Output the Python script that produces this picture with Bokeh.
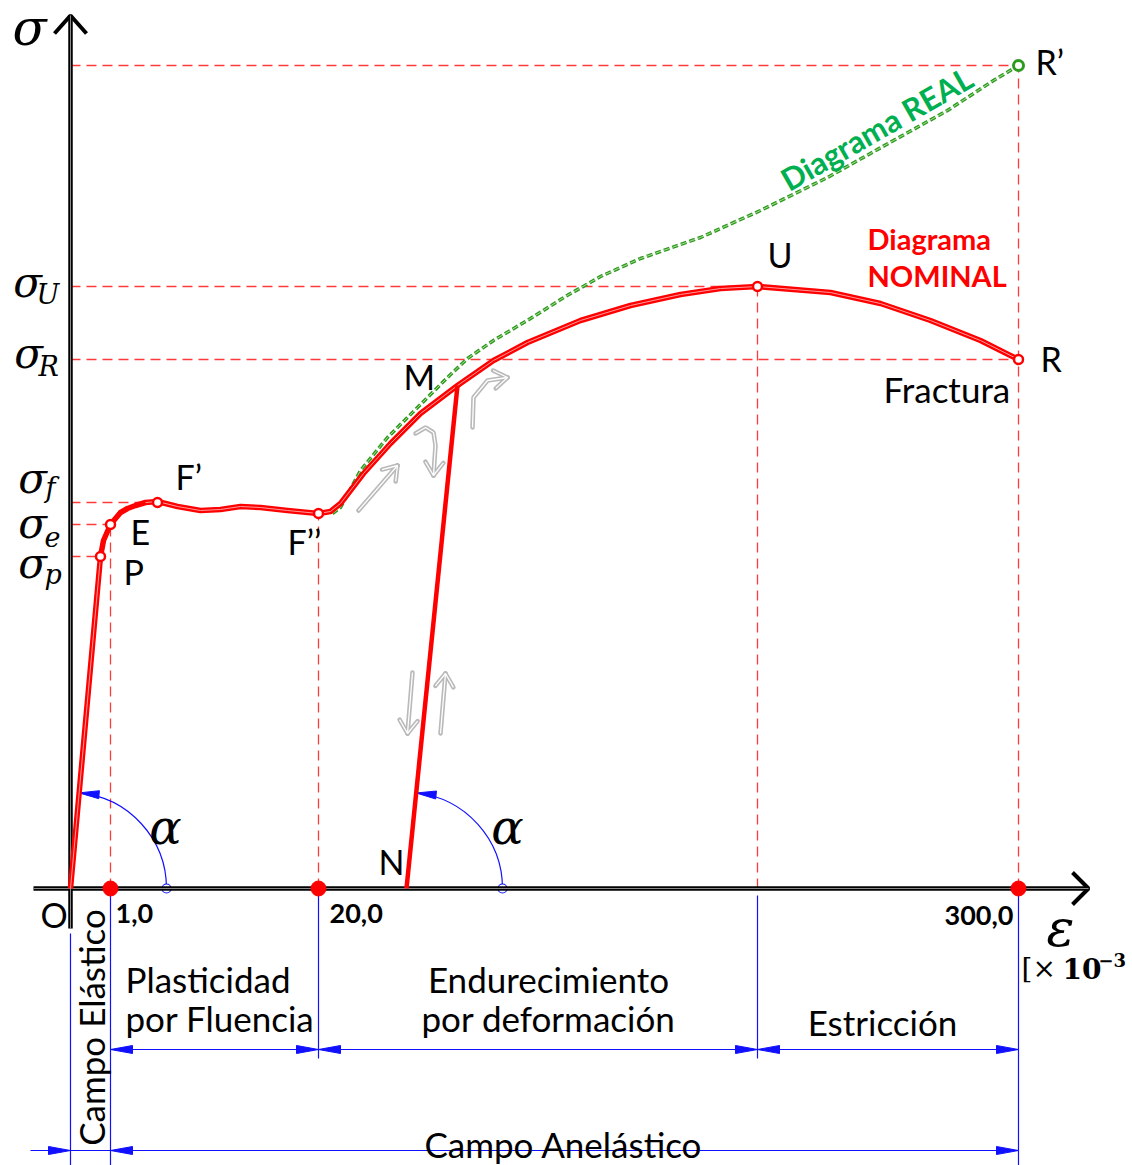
import numpy as np
from bokeh.plotting import figure
from bokeh.models import Range1d
from bokeh.embed import file_html
from bokeh.resources import INLINE
from bokeh.core.properties import value

# ---------------- data (schematic diagram units: x = strain position, y = stress) ----------------
strain_ticks = [40, 248, 948]
strain_tick_labels = ["1,0", "20,0", "300,0"]
strain_P, strain_E, strain_F1, strain_F2 = 30, 40, 87, 248
strain_M, strain_U, strain_R = 387, 687, 948
strain_N = 336

stress_p, stress_e, stress_f = 332, 364, 386
stress_F2, stress_M = 375, 503
stress_R, stress_U, stress_Rreal = 529, 602, 823

nominal_x = [0, 30, 33, 40, 50, 57, 65, 75, 87, 107, 130, 150, 170, 190, 217, 248,
             260, 270, 293, 320, 350, 387, 423, 457, 510, 560, 610, 650, 687,
             760, 810, 860, 910, 948]
nominal_y = [0, 332, 348, 364, 376, 380, 383, 386, 387, 382, 378, 379, 382, 381, 378, 375,
             377, 385, 415, 445, 475, 503, 528, 546, 568, 583, 594, 600, 602,
             596, 585, 568, 548, 529]

real_x = [262, 270, 290, 317, 347, 377, 397, 423, 460, 495, 530, 570, 630, 690, 757, 823, 877, 923, 948]
real_y = [375, 381, 418, 451, 481, 511, 530, 548, 570, 592, 612, 630, 651, 678, 711, 748, 778, 808, 823]

point_names = ["P", "E", "F’", "F’’", "U", "R"]
point_x = [strain_P, strain_E, strain_F1, strain_F2, strain_U, strain_R]
point_y = [stress_p, stress_e, stress_f, stress_F2, stress_U, stress_R]

# ---------------- figure ----------------
p = figure(width=1132, height=1165, x_range=Range1d(-70, 1062), y_range=Range1d(-277, 888),
           output_backend="svg", toolbar_location=None, min_border=0,
           x_axis_location=None, y_axis_location=None)
p.grid.visible = False
p.outline_line_color = None

RED = "#ff0000"
GUIDE = "#ff3a3a"
BLUE = "#1010ff"
GREEN = "#2e9a1e"
GRAY = "#b9b9b9"

# guide dashed lines
hx0 = [0, 0, 0, 0, 0, 0]
hx1 = [strain_R, strain_U, strain_R, strain_F1, strain_E, strain_P]
hy = [stress_Rreal, stress_U, stress_R, stress_f, stress_e, stress_p]
p.segment(x0=hx0, y0=hy, x1=hx1, y1=hy, line_color=GUIDE, line_width=1.3, line_dash="10 6")
vx = [strain_E, strain_F2, strain_U, strain_R]
vy1 = [stress_e, stress_F2, stress_U, stress_Rreal]
p.segment(x0=vx, y0=[0] * 4, x1=vx, y1=vy1, line_color=GUIDE, line_width=1.3, line_dash="10 6")

# blue dimension lines
bx = [0, strain_E, strain_F2, strain_U, strain_R]
by0 = [-45, -7, -7, -7, -7]
by1 = [-280, -280, -170, -170, -280]
p.segment(x0=bx, y0=by0, x1=bx, y1=by1, line_color=BLUE, line_width=1.2)
dim1_y, dim2_y = -161, -262
p.segment(x0=[strain_E, -40], y0=[dim1_y, dim2_y], x1=[strain_R, strain_R], y1=[dim1_y, dim2_y],
          line_color=BLUE, line_width=1.2)

def tri(tx, ty, d, L=22, w=4):
    return [tx, tx - d * L, tx - d * L], [ty, ty + w, ty - w]

heads = [(strain_E, dim1_y, -1), (strain_F2, dim1_y, 1), (strain_F2, dim1_y, -1),
         (strain_U, dim1_y, 1), (strain_U, dim1_y, -1), (strain_R, dim1_y, 1),
         (0, dim2_y, 1), (strain_E, dim2_y, -1), (strain_R, dim2_y, 1)]
hxs, hys = [], []
for tx, ty, d in heads:
    a, b = tri(tx, ty, d)
    hxs.append(a); hys.append(b)
p.patches(hxs, hys, fill_color=BLUE, line_color=BLUE, line_width=1)

# alpha arcs
ang1 = np.arctan2(stress_p, strain_P)
ang2 = np.arctan2(stress_M, strain_M - strain_N)
r = 96
p.arc(x=[0, strain_N], y=[0, 0], radius=r, start_angle=0, end_angle=[ang1, ang2],
      line_color=BLUE, line_width=1.2)
axs, ays = [], []
for cx, a in [(0, ang1), (strain_N, ang2)]:
    tx, ty = cx + r * np.cos(a), r * np.sin(a)
    dx, dy = -np.sin(a), np.cos(a)
    nx, ny = -dy, dx
    L, w = 20, 4
    axs.append([tx, tx - dx * L + nx * w, tx - dx * L - nx * w])
    ays.append([ty, ty - dy * L + ny * w, ty - dy * L - ny * w])
p.patches(axs, ays, fill_color=BLUE, line_color=BLUE)
p.scatter([r, strain_N + r], [0, 0], size=9, fill_color="white", line_color=BLUE, line_width=1.2)

# axes
p.line([0, 0], [-40, 873], line_color="black", line_width=4.5)
p.line([-37, 1018], [0, 0], line_color="black", line_width=4.5)
p.line([-16, 0, 16], [855, 873, 855], line_color="black", line_width=4)
p.line([1002, 1018, 1002], [16, 0, -16], line_color="black", line_width=4)
p.line([0, 0], [-40, 873], line_color="#8a8a8a", line_width=1)
p.line([-37, 1018], [0, 0], line_color="#8a8a8a", line_width=1)

# gray direction arrows
garrows = [
    ([288, 327], [378, 423]),
    ([345, 355, 363, 365, 363], [455, 461, 456, 443, 413]),
    ([402, 403, 417, 437], [461, 491, 508, 511]),
    ([342, 337], [216, 155]),
    ([370, 375], [155, 215]),
]
gx, gy = [], []
for xs, ys in garrows:
    gx.append(xs); gy.append(ys)
    tx, ty = xs[-1], ys[-1]
    d = np.array([tx - xs[-2], ty - ys[-2]], float)
    d /= np.linalg.norm(d)
    for s in (1, -1):
        c, sn = np.cos(s * 0.6), np.sin(s * 0.6)
        bx_ = -(d[0] * c - d[1] * sn) * 16
        by_ = -(d[0] * sn + d[1] * c) * 16
        gx.append([tx, tx + bx_]); gy.append([ty, ty + by_])
p.multi_line(gx, gy, line_color=GRAY, line_width=4.5, line_cap="round")
p.multi_line(gx, gy, line_color="white", line_width=1.3)

# real (green) diagram
p.line(real_x, real_y, line_color=GREEN, line_width=3.5, line_dash="6 3")
p.line(real_x, real_y, line_color="#a8dc98", line_width=1, line_dash="6 3")

# nominal (red) diagram
p.line(nominal_x, nominal_y, line_color=RED, line_width=5.5, line_join="round")
p.line(nominal_x[7:], nominal_y[7:], line_color="#ff9a9a", line_width=1)
p.line([strain_N, strain_M], [0, stress_M], line_color=RED, line_width=4.5)
p.line([0, strain_P], [0, stress_p], line_color="#ff9a9a", line_width=1)

p.scatter(point_x, point_y, size=9, fill_color="white", line_color=RED, line_width=2.5)
p.scatter([strain_R], [stress_Rreal], size=10, fill_color="white", line_color=GREEN, line_width=3)
p.scatter(strain_ticks, [0] * 3, size=15, fill_color=RED, line_color=RED)

# ---------------- texts ----------------
SANS = value("Lato")
SERIF = value("DejaVu Serif")

def txt(xs, ys, ts, size, font=SANS, style="normal", color="black", align="left",
        baseline="alphabetic", angle=0, k=0.4):
    if baseline == "alphabetic":
        ys = [y + k * size for y in ys]
    p.text(x=xs, y=ys, text=ts, text_font=font, text_font_size=f"{size}px",
           text_font_style=style, text_color=color, text_align=align,
           text_baseline=baseline, angle=angle)

txt([105, 60, 53, 217, 333, 697, 970, 965, 308, -30],
    [398, 343, 303, 333, 498, 620, 516, 813, 13, -40],
    ["F’", "E", "P", "F’’", "M", "U", "R", "R’", "N", "O"], 34)
txt([813], [486], ["Fractura"], 35)
txt([797, 797], [638, 601], ["Diagrama", "NOMINAL"], 29, style="bold", color=RED)
txt([806], [760], ["Diagrama REAL"], 31, style="bold", color="#00b050",
    align="center", baseline="middle", angle=0.52)

txt([45, 259], [-36, -36], strain_tick_labels[:2], 27, style="bold")
txt([943], [-38], strain_tick_labels[2:], 27, style="bold", align="right")

txt([55, 55], [-104, -143], ["Plasticidad", "por Fluencia"], 35)
txt([478, 478], [-104, -143], ["Endurecimiento", "por deformación"], 35, align="center")
txt([812], [-147], ["Estricción"], 35, align="center")
txt([493], [-269], ["Campo Anelástico"], 35, align="center")
txt([20], [-139], ["Campo Elástico"], 35, align="center", baseline="middle", angle=np.pi / 2)

# greek symbols
txt([-41], [846], ["σ"], 50, font=SERIF, style="italic", align="center", k=0.3)
txt([-43, -42, -38, -38, -38], [591, 520, 395, 350, 310], ["σ"] * 5, 42,
    font=SERIF, style="italic", align="center", k=0.36)
txt([-34, -32, -25, -26, -26], [583, 511, 390, 341, 303], ["U", "R", "f", "e", "p"], 27,
    font=SERIF, style="italic")
txt([95, 437], [46, 46], ["α", "α"], 48, font=SERIF, style="italic", align="center", k=0.33)
txt([990], [-57], ["ε"], 52, font=SERIF, style="italic", align="center", k=0.33)
txt([951], [-91], ["[×"], 28, font=SERIF)
txt([992], [-91], ["10"], 28, font=SERIF, style="bold")
txt([1028], [-79], ["−3"], 18, font=SERIF, style="bold")

open("out.html", "w").write(file_html(p, INLINE))
